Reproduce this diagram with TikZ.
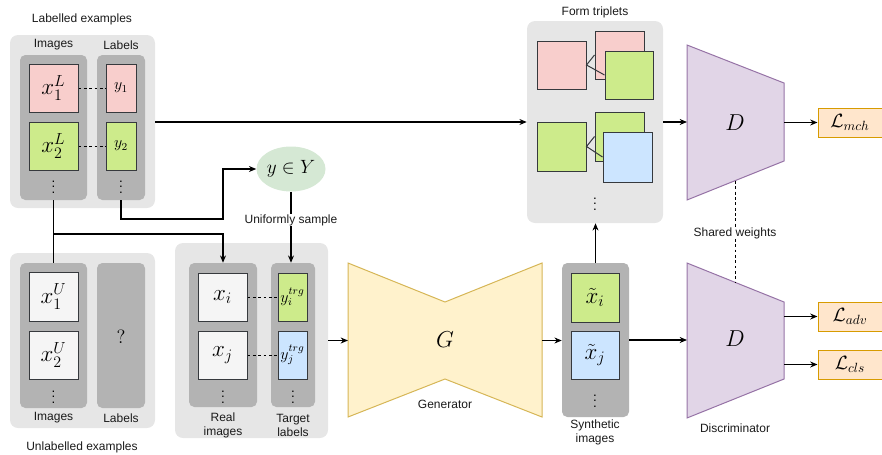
\documentclass[tikz,border=0pt]{standalone}
\usepackage{fontspec}
\setmainfont{Liberation Sans}
\usetikzlibrary{arrows.meta,shapes.geometric}
\definecolor{grayL}{HTML}{E6E6E6}
\definecolor{grayM}{HTML}{B3B3B3}
\definecolor{edge}{HTML}{36393D}
\definecolor{pinkF}{HTML}{F8CECC}
\definecolor{greenF}{HTML}{CDEB8B}
\definecolor{blueF}{HTML}{CCE5FF}
\definecolor{whiteF}{HTML}{F5F5F5}
\definecolor{ellF}{HTML}{D5E8D4}
\definecolor{genF}{HTML}{FFF2CC}
\definecolor{genS}{HTML}{D6B656}
\definecolor{disF}{HTML}{E1D5E7}
\definecolor{disS}{HTML}{9673A6}
\definecolor{lossF}{HTML}{FFE6CC}
\definecolor{lossS}{HTML}{D79B00}
\definecolor{txt}{HTML}{1A1A1A}
\tikzset{
  lbl/.style={font=\fontsize{9}{10.5}\selectfont, text=txt, inner sep=0pt, align=center},
  outerbox/.style={fill=grayL, rounded corners=6pt, inner sep=0pt},
  colbox/.style={fill=grayM, rounded corners=4pt, inner sep=0pt},
  sq/.style={draw=edge, line width=0.75pt, inner sep=0pt},
  conn/.style={line width=0.8pt, -{Stealth[length=5.5pt,width=4.5pt]}},
  plainline/.style={line width=0.8pt},
  dline/.style={line width=0.6pt, dash pattern=on 2.2pt off 1.8pt},
  bigm/.style={font=\fontsize{17.28}{19}\selectfont},
  smallm/.style={font=\fontsize{12}{14}\selectfont},
}
\newcommand\mybox[6]{\node[#1, minimum width={#4*0.75pt}, minimum height={#5*0.75pt}] (#2) at (#3) {#6};}
\begin{document}
\begin{tikzpicture}[x=0.75pt,y=-0.75pt]
\useasboundingbox (0,0) rectangle (882,454);
\clip (0,0) rectangle (882,454);

% ---------- Labelled examples ----------
\node[lbl] (tLE) at (82,19) {Labelled examples};
\mybox{outerbox}{LE}{82.5,121.5}{145}{173}{}
\node[lbl] (tLI) at (53.5,45) {Images};
\node[lbl] (tLL) at (121,45) {Labels};
\mybox{colbox}{LI}{53.5,127.5}{67}{145}{}
\mybox{colbox}{LL}{121,127.5}{48}{145}{}
\mybox{sq,fill=pinkF,bigm}{x1L}{53.5,88}{49}{48}{$x_1^L$}
\mybox{sq,fill=greenF,bigm}{x2L}{53.5,146}{49}{48}{$x_2^L$}
\mybox{sq,fill=pinkF,smallm}{y1}{121,88}{30}{48}{$y_1$}
\mybox{sq,fill=greenF,smallm}{y2}{121,146}{30}{48}{$y_2$}
\node[inner sep=0pt] (dLI) at (53.5,183) {$\vdots$};
\node[inner sep=0pt] (dLL) at (121,183) {$\vdots$};
\draw[dline] (x1L.east) -- (y1.west);
\draw[dline] (x2L.east) -- (y2.west);

% ---------- Unlabelled examples ----------
\mybox{outerbox}{UE}{82.5,340.5}{145}{175}{}
\mybox{colbox}{UI}{53.5,335.5}{67}{145}{}
\mybox{colbox}{UL}{121,335.5}{48}{145}{}
\mybox{sq,fill=whiteF,bigm}{x1U}{53.5,296.5}{49}{49}{$x_1^U$}
\mybox{sq,fill=whiteF,bigm}{x2U}{53.5,355}{49}{48}{$x_2^U$}
\node[inner sep=0pt] (dUI) at (53.5,393) {$\vdots$};
\node[inner sep=0pt,font=\fontsize{14.4}{16}\selectfont] (q) at (121,337) {$?$};
\node[lbl] (tUI) at (53.5,418) {Images};
\node[lbl] (tUL) at (121,418) {Labels};
\node[lbl] (tUE) at (82,447) {Unlabelled examples};

% ---------- Real images / target labels ----------
\mybox{outerbox}{RE}{251.5,340.5}{153}{195}{}
\mybox{colbox}{RI}{223,335}{68}{144}{}
\mybox{colbox}{TL}{293,335}{44}{144}{}
\mybox{sq,fill=whiteF,bigm}{xi}{222.5,297}{49}{48}{$x_i$}
\mybox{sq,fill=whiteF,bigm}{xj}{222.5,355}{49}{48}{$x_j$}
\mybox{sq,fill=greenF,smallm}{yi}{292.5,297}{29}{48}{$y_i^{trg}$}
\mybox{sq,fill=blueF,smallm}{yj}{292.5,355}{29}{48}{$y_j^{trg}$}
\node[inner sep=0pt] (dRI) at (223,393) {$\vdots$};
\node[inner sep=0pt] (dTL) at (293,393) {$\vdots$};
\draw[dline] (xi.east) -- (yi.west);
\draw[dline] (xj.east) -- (yj.west);
\node[lbl] (tRI) at (223,425) {Real\\images};
\node[lbl] (tTL) at (293,425) {Target\\labels};

% ---------- Uniform sampling ----------
\node[ellipse, fill=ellF, minimum width={69*0.75pt}, minimum height={45*0.75pt}, inner sep=0pt, font=\fontsize{14.4}{16}\selectfont] (Y) at (291,169) {$y\in Y$};
\node[lbl] (US) at (291,220) {Uniformly sample};

% ---------- Generator ----------
\draw[fill=genF, draw=genS, line width=0.75pt] (348,263) -- (445,302) -- (542,263) -- (542,417) -- (445,379) -- (348,417) -- cycle;
\coordinate (Gw) at (348,340.5);
\coordinate (Ge) at (542,340.5);
\node[bigm] (G) at (445,340) {$G$};
\node[lbl] (tG) at (445,404) {Generator};

% ---------- Synthetic images ----------
\mybox{colbox}{SY}{595.5,340}{67}{154}{}
\mybox{sq,fill=greenF,bigm}{sxi}{595,297.5}{48}{49}{$\tilde{x}_i$}
\mybox{sq,fill=blueF,bigm}{sxj}{595,355}{48}{48}{$\tilde{x}_j$}
\node[inner sep=0pt] (dSY) at (595,397) {$\vdots$};
\node[lbl] (tSY) at (595,432) {Synthetic\\images};

% ---------- Form triplets ----------
\node[lbl] (tFT) at (595,12) {Form triplets};
\mybox{outerbox}{FT}{595,122}{136}{202}{}
\mybox{sq,fill=pinkF}{T1a}{561.5,65}{49}{48}{}
\mybox{sq,fill=pinkF}{T1b}{619.5,55}{49}{48}{}
\mybox{sq,fill=greenF}{T1c}{629,75}{48}{48}{}
\mybox{sq,fill=greenF}{T2a}{561.5,146.5}{49}{49}{}
\mybox{sq,fill=greenF}{T2b}{619.5,136.5}{49}{49}{}
\mybox{sq,fill=blueF}{T2c}{627.5,157}{49}{50}{}
\draw[edge, line width=0.75pt] (T1b.west) -- (T1a.east) -- (T1c.west);
\draw[edge, line width=0.75pt] (T2b.west) -- (T2a.east) -- (T2c.west);
\node[inner sep=0pt] (dFT) at (595,200) {$\vdots$};

% ---------- Discriminators ----------
\draw[fill=disF, draw=disS, line width=0.75pt] (687,45) -- (784,83) -- (784,161) -- (687,200) -- cycle;
\node[bigm] (D1) at (735,123) {$D$};
\coordinate (D1w) at (687,122);
\coordinate (D1e) at (784,122.5);
\coordinate (D1b) at (735,181);
\draw[fill=disF, draw=disS, line width=0.75pt] (687,263) -- (784,302) -- (784,379) -- (687,418) -- cycle;
\node[bigm] (D2) at (735,339) {$D$};
\coordinate (D2w) at (687,340);
\coordinate (D2t) at (735,282);
\coordinate (D2e1) at (784,316.5);
\coordinate (D2e2) at (784,364.5);
\node[lbl] (tD) at (735,428) {Discriminator};
\node[lbl] (SW) at (735,233) {Shared weights};

% ---------- Losses ----------
\mybox{draw=lossS,fill=lossF,line width=0.75pt,inner sep=0pt}{Lmch}{851,122.5}{66}{29}{}
\mybox{draw=lossS,fill=lossF,line width=0.75pt,inner sep=0pt}{Ladv}{851,316.5}{66}{29}{}
\mybox{draw=lossS,fill=lossF,line width=0.75pt,inner sep=0pt}{Lcls}{851,364.5}{66}{29}{}
\node[font=\fontsize{14.4}{16}\selectfont] (tmch) at (850,122.5) {$\mathcal{L}_{mch}$};
\node[font=\fontsize{14.4}{16}\selectfont] (tadv) at (850,316.5) {$\mathcal{L}_{adv}$};
\node[font=\fontsize{14.4}{16}\selectfont] (tcls) at (850,364.5) {$\mathcal{L}_{cls}$};

% ---------- Connectors ----------
\draw[conn] (LE.east|-FT.west) -- (FT.west);
\draw[plainline] (LI.south) -- (UI.north);
\coordinate (j1) at (53.5,234);
\draw[conn] (j1) -| (RI.north);
\coordinate (j2) at (223,219);
\draw[conn] (LL.south) |- (j2) |- (Y.west);
\draw[plainline] (Y.south) -- (US.north);
\draw[conn] (US.south) -- (US.south|-TL.north);
\draw[conn] (RE.east|-Gw) -- (Gw);
\draw[conn] (Ge) -- (SY.west|-Ge);
\draw[conn] (SY.north) -- (SY.north|-FT.south);
\draw[conn] (SY.east|-D2w) -- (D2w);
\draw[conn] (FT.east|-D1w) -- (D1w);
\draw[conn] (D1e) -- (Lmch.west);
\draw[conn] (D2e1) -- (Ladv.west);
\draw[conn] (D2e2) -- (Lcls.west);
\draw[dline] (D1b) -- (SW.north);
\draw[dline] (SW.south) -- (D2t);
\end{tikzpicture}
\end{document}
